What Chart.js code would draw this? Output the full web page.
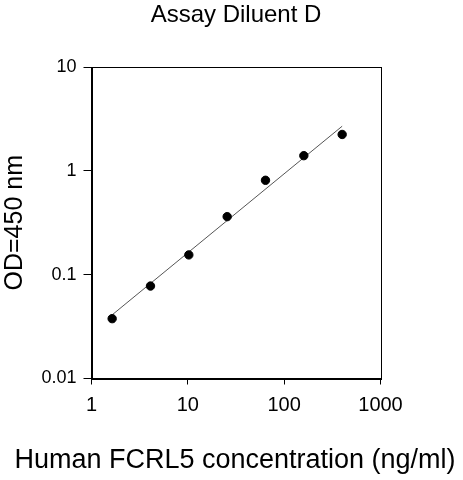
<!DOCTYPE html>
<html>
<head>
<meta charset="utf-8">
<script src="https://cdn.jsdelivr.net/npm/chart.js@4/dist/chart.umd.min.js"></script>
<style>
  html, body { margin: 0; padding: 0; background: #fff; }
  #wrap { width: 463px; height: 480px; position: relative; }
</style>
</head>
<body>
<div id="wrap"><canvas id="stdCurve"></canvas></div>
<script>
// standard curve data
const concentrations = [1.6384, 4.096, 10.24, 25.6, 64, 160, 400];
const odValues = [0.0377, 0.0777, 0.155, 0.362, 0.811, 1.40, 2.24];

// fitted line end points
const fitX = [1.6384, 400];
const fitY = [0.041, 2.69];

const xTickValues = [1, 10, 100, 1000];
const yTickValues = [0.01, 0.1, 1, 10];

const FONT = "'Liberation Sans', Arial, sans-serif";

// box around the plot area (Chart.js only draws left + bottom)
const frameBox = {
    id: "frameBox",
    afterDraw(chart) {
        const { ctx, chartArea } = chart;
        ctx.save();
        ctx.strokeStyle = "#000";
        ctx.lineWidth = 1;
        ctx.strokeRect(Math.round(chartArea.left) + 0.5, Math.round(chartArea.top) + 0.5,
            Math.round(chartArea.right - chartArea.left), Math.round(chartArea.bottom - chartArea.top));
        ctx.restore();
    }
};

const ctx = document.getElementById("stdCurve").getContext("2d");
const stdChart = new Chart(ctx, {
    type: "scatter",
    data: {
        datasets: [{
            type: "line",
            data: fitX.map((x, i) => ({ x: x, y: fitY[i] })),
            borderColor: "#555",
            borderWidth: 1,
            pointRadius: 0,
            fill: false,
            order: 2
        }, {
            data: concentrations.map((c, i) => ({ x: c, y: odValues[i] })),
            backgroundColor: "#000",
            borderColor: "#000",
            pointRadius: 4.2,
            order: 1
        }]
    },
    options: {
        responsive: true,
        maintainAspectRatio: false,
        animation: false,
        layout: {
            padding: { left: 7, right: 0, top: 0, bottom: 0 }
        },
        plugins: {
            legend: { display: false },
            tooltip: { enabled: false },
            title: {
                display: true,
                text: "Assay Diluent D",
                fullSize: false,
                color: "#000",
                font: { family: FONT, size: 24, weight: "normal" },
                padding: { top: 1, bottom: 37.2 }
            },
            // x axis title, drawn full width so it is not squeezed
            subtitle: {
                display: true,
                position: "bottom",
                fullSize: true,
                text: "Human FCRL5 concentration (ng/ml)",
                color: "#000",
                font: { family: FONT, size: 27, weight: "normal", lineHeight: 1.2 },
                padding: { top: 0, bottom: 3 }
            }
        },
        scales: {
            x: {
                type: "logarithmic",
                min: 1,
                max: 1000,
                afterBuildTicks: scale => {
                    scale.ticks = xTickValues.map(v => ({ value: v }));
                },
                afterFit: scale => { scale.height = 66.1; },
                ticks: {
                    callback: value => String(value),
                    color: "#000",
                    font: { family: FONT, size: 20 },
                    padding: 9,
                    maxRotation: 0,
                    autoSkip: false
                },
                grid: {
                    drawOnChartArea: false,
                    drawTicks: true,
                    tickLength: 6,
                    color: "#000"
                },
                border: { color: "#000", width: 1 }
            },
            y: {
                type: "logarithmic",
                min: 0.01,
                max: 10,
                afterBuildTicks: scale => {
                    scale.ticks = yTickValues.map(v => ({ value: v }));
                },
                afterFit: scale => { scale.width = 84.5; },
                ticks: {
                    callback: value => String(value),
                    color: "#000",
                    font: { family: FONT, size: 18 },
                    padding: 7,
                    autoSkip: false
                },
                grid: {
                    drawOnChartArea: false,
                    drawTicks: true,
                    tickLength: 8,
                    color: "#000"
                },
                border: { color: "#000", width: 1 },
                title: {
                    display: true,
                    text: "OD=450 nm",
                    color: "#000",
                    font: { family: FONT, size: 25, lineHeight: 0.66 },
                    padding: { top: 0, bottom: 0 }
                }
            },
            // empty right-hand axis, only reserves the white margin
            yRight: {
                position: "right",
                type: "linear",
                afterFit: scale => { scale.width = 82.5; },
                ticks: { display: false },
                grid: { display: false },
                border: { display: false }
            }
        }
    },
    plugins: [frameBox]
});
</script>
</body>
</html>
